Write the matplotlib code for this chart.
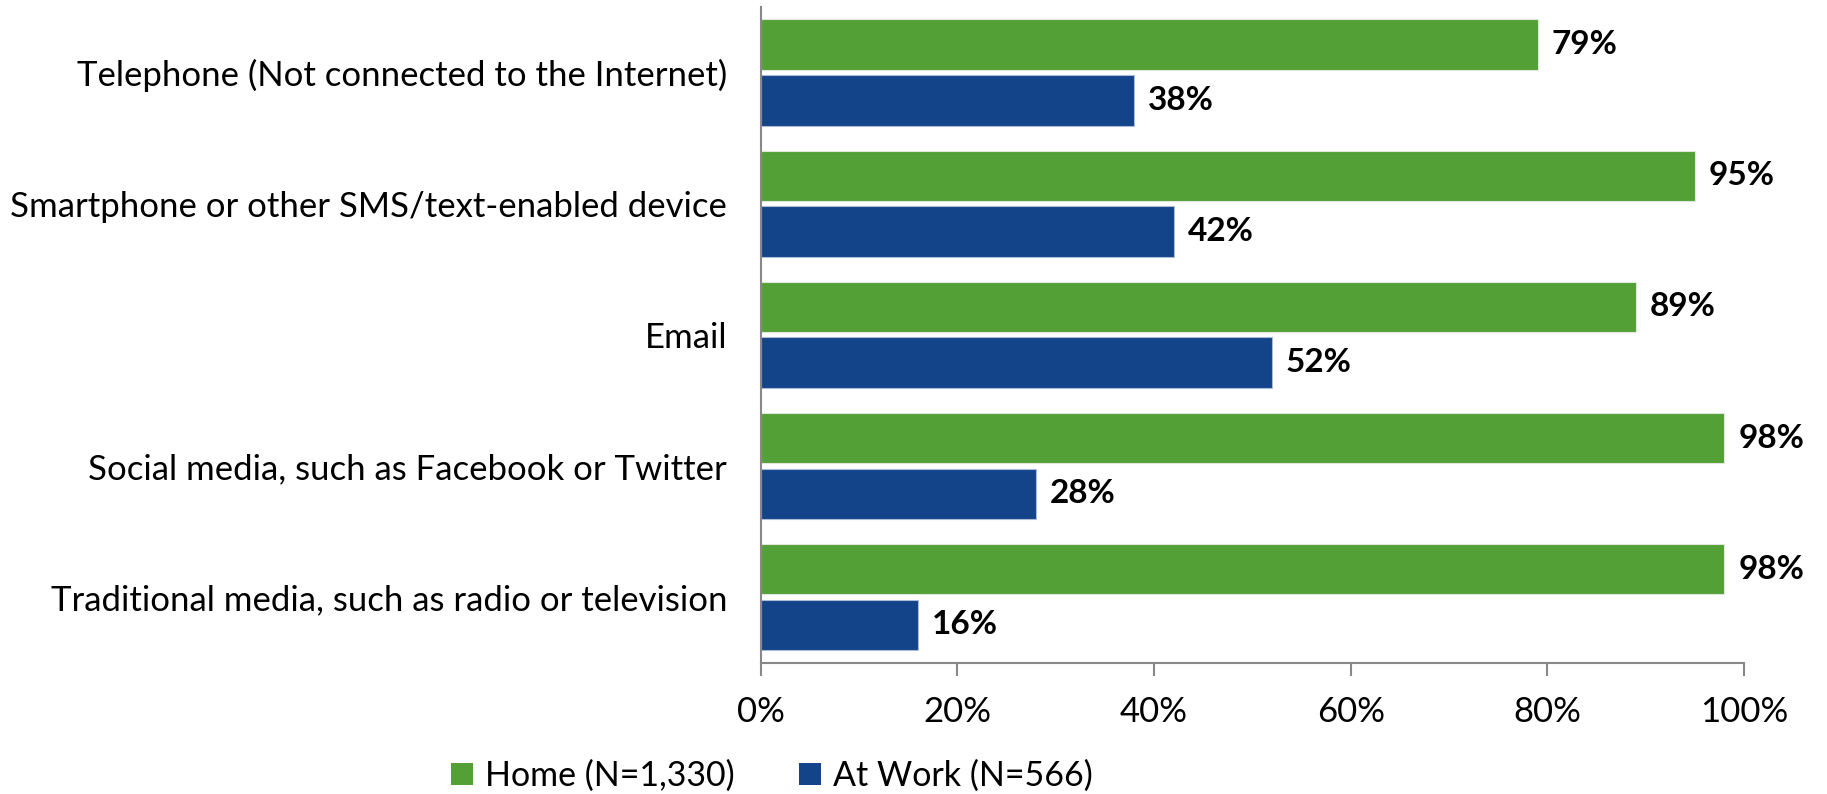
import numpy as np
import matplotlib
matplotlib.use("Agg")
import matplotlib.pyplot as plt
from matplotlib.ticker import PercentFormatter
from matplotlib.patches import Patch

categories = [
    "Telephone (Not connected to the Internet)",
    "Smartphone or other SMS/text-enabled device",
    "Email",
    "Social media, such as Facebook or Twitter",
    "Traditional media, such as radio or television",
]
home = [79, 95, 89, 98, 98]
work = [38, 42, 52, 28, 16]
series_names = ["Home (N=1,330)", "At Work (N=566)"]

green = "#52A036"
blue = "#134389"
plt.rcParams["font.family"] = ["Lato", "DejaVu Sans"]

fig = plt.figure(figsize=(18.27, 7.94), dpi=100)
ax = fig.add_axes([0.4163, 0.1654, 0.5383, 0.8258])

y = np.arange(len(categories))
off = 0.2125
h = 0.385
ax.barh(y - off, home, height=h, color=green, edgecolor="#dfe8da", linewidth=0.8)
ax.barh(y + off, work, height=h, color=blue, edgecolor="#a9bbd6", linewidth=0.8)

# value labels
for yi, v in zip(y, home):
    ax.text(v + 1.4, yi - off, f"{v}%", va="center", ha="left",
            fontsize=24, fontweight="bold")
for yi, v in zip(y, work):
    ax.text(v + 1.4, yi + off, f"{v}%", va="center", ha="left",
            fontsize=24, fontweight="bold")

ax.set_xlim(0, 100)
ax.set_ylim(len(categories) - 0.5, -0.5)
ax.set_yticks(y)
ax.set_yticklabels(categories, fontsize=25)
ax.set_xticks(np.arange(0, 101, 20))
ax.xaxis.set_major_formatter(PercentFormatter(decimals=0))
ax.tick_params(axis="x", labelsize=25, length=9, width=1.5, color="#888888",
               direction="out", pad=15)
ax.tick_params(axis="y", length=0, pad=24)

for s in ["top", "right"]:
    ax.spines[s].set_visible(False)
for s in ["left", "bottom"]:
    ax.spines[s].set_color("#888888")
    ax.spines[s].set_linewidth(1.5)

handles = [Patch(facecolor=green), Patch(facecolor=blue)]
fig.legend(handles, series_names, loc="center", bbox_to_anchor=(0.4225, 0.023),
           ncol=2, frameon=False, fontsize=24.5, handlelength=0.65, handleheight=0.65,
           handletextpad=0.35, columnspacing=1.9)

fig.savefig("out.png", dpi=100)
